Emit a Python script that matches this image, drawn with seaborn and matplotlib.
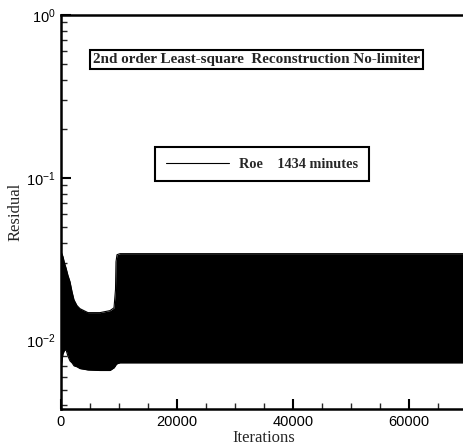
import matplotlib
matplotlib.use("Agg")
import matplotlib.pyplot as plt
import seaborn as sns
import numpy as np
from matplotlib.ticker import LogLocator, MultipleLocator, LogFormatterMathtext, NullFormatter

# Envelope of the (densely oscillating) residual history
iterations = [0, 100, 345, 600, 862, 1207, 1552, 1897, 2241, 2759, 3276, 4655,
              6724, 8448, 9138, 9397, 9483, 9655, 10172, 70000]
residual_upper = [0.0362, 0.0345, 0.0328, 0.0300, 0.0280, 0.0251, 0.0230, 0.0200,
                  0.0178, 0.0164, 0.0157, 0.01485, 0.01485, 0.01528, 0.0159, 0.0206,
                  0.0305, 0.0337, 0.0342, 0.0342]
residual_lower = [0.0060, 0.0072, 0.0083, 0.0087, 0.0088, 0.0080, 0.0075, 0.0073,
                  0.0070, 0.0069, 0.00673, 0.0066, 0.00655, 0.00655, 0.0068, 0.0070,
                  0.0071, 0.0072, 0.0073, 0.0073]
series_label = "Roe    1434 minutes"
title_text = "2nd order Least-square  Reconstruction No-limiter"
x_ticks = [0, 20000, 40000, 60000]
x_tick_labels = ["0", "20000", "40000", "60000"]

sns.set_style("ticks")
plt.rcParams['font.family'] = ['Liberation Sans', 'DejaVu Sans']
plt.rcParams['mathtext.fontset'] = 'custom'
plt.rcParams['mathtext.rm'] = 'Liberation Sans'
plt.rcParams['mathtext.it'] = 'Liberation Sans'

fig = plt.figure(figsize=(4.64, 4.48), dpi=100)
W, H = 464, 448
left, right, top, bottom = 61, 467, 15, 409
ax = fig.add_axes([left / W, 1 - bottom / H, (right - left) / W, (bottom - top) / H])

sns.lineplot(x=iterations, y=residual_upper, ax=ax, color="black", lw=0.8,
             label=series_label, estimator=None, sort=False)
sns.lineplot(x=iterations, y=residual_lower, ax=ax, color="black", lw=0.8,
             estimator=None, sort=False, legend=False)
ax.fill_between(iterations, residual_lower, residual_upper, color="black", lw=0)

ax.set_yscale("log")
ax.set_xlim(0, 70000)
ax.set_ylim(0.0038, 1.0)

ax.yaxis.set_major_locator(LogLocator(base=10, numticks=10))
ax.yaxis.set_minor_locator(LogLocator(base=10, subs=np.arange(2, 10), numticks=10))
ax.yaxis.set_major_formatter(LogFormatterMathtext())
ax.yaxis.set_minor_formatter(NullFormatter())
ax.set_xticks(x_ticks)
ax.set_xticklabels(x_tick_labels)
ax.xaxis.set_minor_locator(MultipleLocator(5000))

for s in ax.spines.values():
    s.set_linewidth(1.8)
    s.set_color("black")

ax.tick_params(which="major", direction="in", length=7, width=1.5, labelsize=10.5,
               colors="black", pad=4, top=False, right=False)
ax.tick_params(which="minor", direction="in", length=4, width=1.0, top=False, right=False)

ax.set_xlabel("Iterations", family="Liberation Serif", fontsize=12, labelpad=1)
ax.set_ylabel("Residual", family="Liberation Serif", fontsize=12, labelpad=2)

ax.text(0.482, 0.888, title_text, transform=ax.transAxes, ha="center", va="center",
        family="Liberation Serif", fontweight="bold", fontsize=10.9,
        bbox=dict(boxstyle="square,pad=0.2", fc="white", ec="black", lw=1.5))

leg = ax.legend(loc="upper left", bbox_to_anchor=(0.2315, 0.665), borderaxespad=0,
                frameon=True, fancybox=False, handlelength=4.4, handletextpad=0.75,
                borderpad=0.75, prop=dict(family="Liberation Serif", weight="bold", size=10.3))
leg.get_frame().set_edgecolor("black")
leg.get_frame().set_linewidth(1.5)
leg.get_frame().set_alpha(1)

fig.savefig("out.png", dpi=100)
